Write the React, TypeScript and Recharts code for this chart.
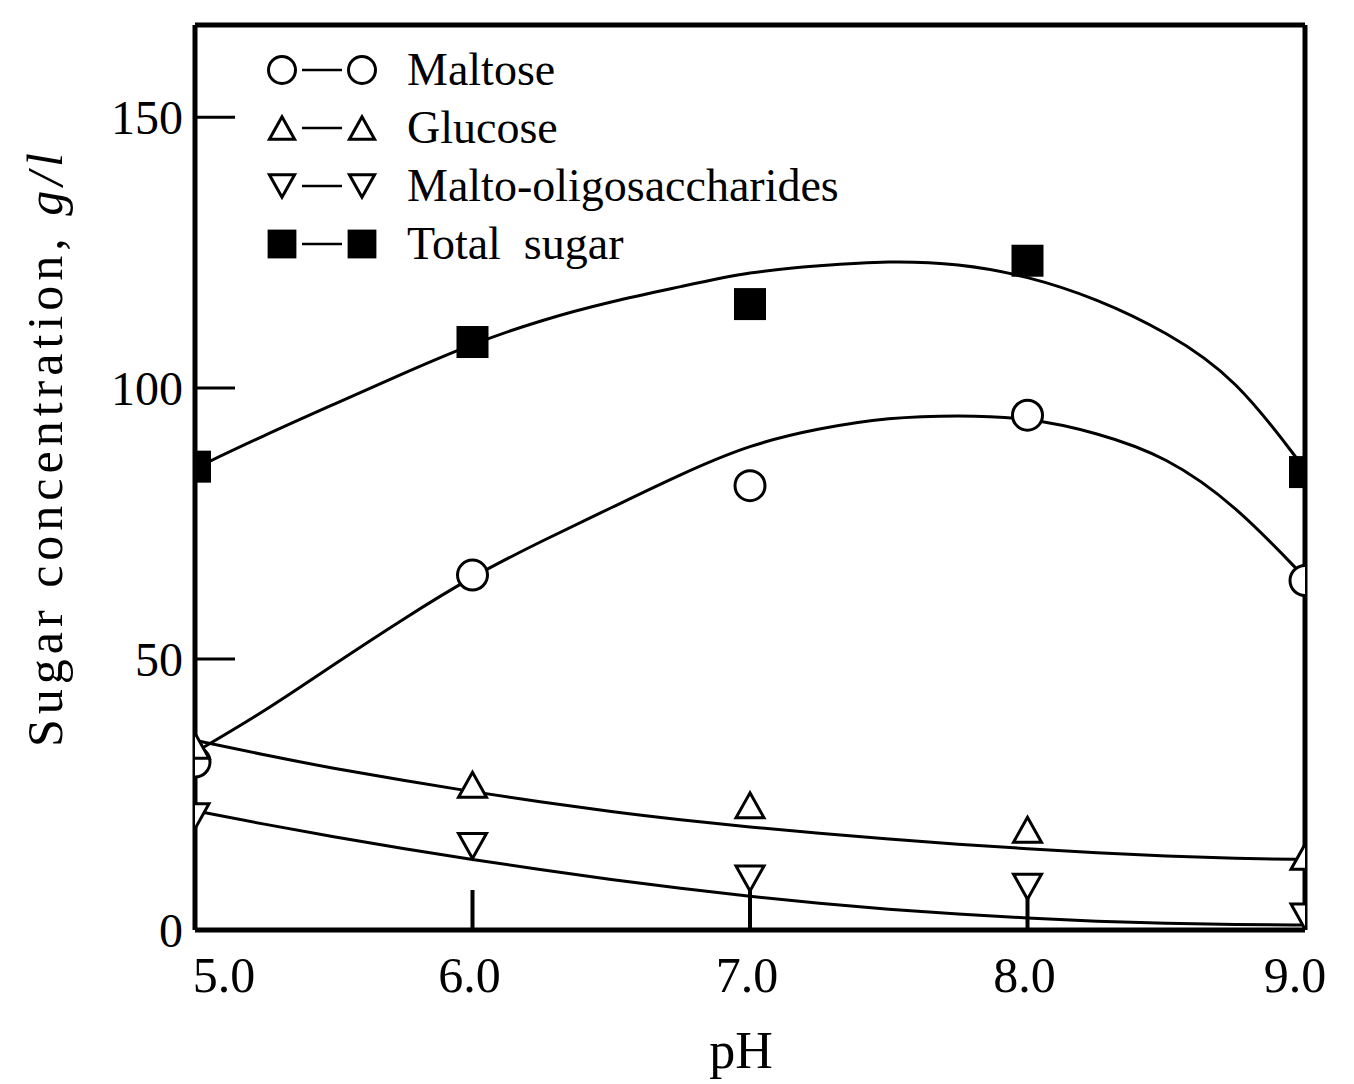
import React from 'react'
import { ComposedChart, Line, Scatter, XAxis, YAxis, ReferenceLine, Legend } from 'recharts'

// measured points (pH 5.0 – 9.0)
const measuredPh = [5.0, 6.0, 7.0, 8.0, 9.0]
const maltose = [31, 65.5, 82, 95, 64.5]
const glucose = [34, 26.8, 23, 18.5, 13.5]
const oligo = [21, 15.5, 9.5, 8, 2.5]
const totalSugar = [85.5, 108.5, 115.5, 123.5, 84.5]

// fitted curves, every 0.25 pH
const fitPh = [5.0, 5.25, 5.5, 5.75, 6.0, 6.25, 6.5, 6.75, 7.0, 7.25, 7.5, 7.75, 8.0, 8.25, 8.5, 8.75, 9.0]
const maltoseFit = [32.8, 40.3, 49, 57.4, 65.3, 71.8, 77.9, 84.1, 89.6, 92.6, 94.6, 95, 94.6, 91.8, 87.4, 78.4, 65]
const glucoseFit = [35, 32.3, 29.8, 27.6, 25.5, 23.6, 21.8, 20.3, 19, 17.8, 16.8, 15.8, 15, 14.2, 13.6, 13.2, 13]
const oligoFit = [22, 19.5, 17.2, 15, 13, 11.1, 9.3, 7.7, 6.2, 4.9, 3.8, 2.9, 2.2, 1.6, 1.2, 1.0, 0.9]
const totalFit = [85.2, 91.3, 97, 102.7, 108.2, 112.6, 116, 118.7, 121.5, 122.6, 123.5, 123, 120.7, 116.5, 110.4, 102, 85]

const phTicks = [5, 6, 7, 8, 9]
const yTicks = [0, 50, 100, 150]

const FONT = '"Liberation Serif", "DejaVu Serif", serif'

type Kind = 'circle' | 'up' | 'down' | 'square'

const series: { name: string; kind: Kind; values: number[]; fit: number[] }[] = [
  { name: 'Maltose', kind: 'circle', values: maltose, fit: maltoseFit },
  { name: 'Glucose', kind: 'up', values: glucose, fit: glucoseFit },
  { name: 'Malto-oligosaccharides', kind: 'down', values: oligo, fit: oligoFit },
  { name: 'Total  sugar', kind: 'square', values: totalSugar, fit: totalFit },
]

function Marker({ kind, cx, cy, s = 1 }: { kind: Kind; cx: number; cy: number; s?: number }) {
  if (kind === 'circle') {
    return <circle cx={cx} cy={cy} r={15 * s} fill="#fff" stroke="#000" strokeWidth={3} />
  }
  if (kind === 'square') {
    const h = 16 * s
    return <rect x={cx - h} y={cy - h} width={2 * h} height={2 * h} fill="#000" />
  }
  const w = 14 * s
  const h = 12.5 * s
  const pts =
    kind === 'up'
      ? `${cx},${cy - h} ${cx - w},${cy + h} ${cx + w},${cy + h}`
      : `${cx},${cy + h} ${cx - w},${cy - h} ${cx + w},${cy - h}`
  return <polygon points={pts} fill="#fff" stroke="#000" strokeWidth={3} strokeLinejoin="miter" />
}

function XTick(props: any) {
  const { x, y, payload } = props
  const v = payload.value
  const dx = v === 5 ? 29 : v === 9 ? -10 : -3
  return (
    <text x={x + dx} y={y} dy="0.71em" textAnchor="middle" fontSize={50} style={{ fontFamily: FONT }} fill="#000">
      {v.toFixed(1)}
    </text>
  )
}

function YTick(props: any) {
  const { x, y, payload } = props
  return (
    <text x={x} y={y} dy="0.35em" textAnchor="end" fontSize={48} style={{ fontFamily: FONT }} fill="#000">
      {payload.value}
    </text>
  )
}

function YTitle({ viewBox }: any) {
  const cx = viewBox.x - 50
  const cy = viewBox.y + viewBox.height / 2 - 30
  return (
    <text
      x={cx}
      y={cy}
      transform={`rotate(-90, ${cx}, ${cy})`}
      textAnchor="middle"
      dominantBaseline="central"
      fill="#000"
      style={{ fontFamily: FONT, fontSize: 50, letterSpacing: 5 }}
    >
      Sugar concentration, <tspan fontStyle="italic">g/l</tspan>
    </text>
  )
}

function LegendBox() {
  return (
    <div style={{ position: 'absolute', left: 257, top: 33, fontFamily: FONT, fontSize: 46 }}>
      {series.map((s) => (
        <div key={s.name} style={{ display: 'flex', alignItems: 'center', height: 58 }}>
          <svg width={142} height={40}>
            <Marker kind={s.kind} cx={17} cy={20} s={0.9} />
            <line x1={37} x2={77} y1={20} y2={20} stroke="#000" strokeWidth={2.5} />
            <Marker kind={s.kind} cx={97} cy={20} s={0.9} />
          </svg>
          <span style={{ whiteSpace: 'pre', lineHeight: 1 }}>{s.name}</span>
        </div>
      ))}
    </div>
  )
}

export default function App() {
  return (
    <div style={{ width: 1346, height: 1076, position: 'relative', background: '#fff' }}>
      <ComposedChart width={1346} height={1076} margin={{ top: 17, right: 49, left: 87, bottom: 0 }}>
        <XAxis
          type="number"
          dataKey="ph"
          domain={[5, 9]}
          ticks={phTicks}
          allowDataOverflow
          height={154}
          stroke="#000"
          axisLine={{ stroke: '#000', strokeWidth: 5 }}
          tickLine={{ stroke: '#000', strokeWidth: 4 }}
          tickSize={-40}
          tickMargin={66}
          tick={<XTick />}
          label={{ value: 'pH', position: 'insideBottom', offset: 16, dx: -9, fontSize: 52, fontFamily: FONT, fill: '#000' }}
        />
        <YAxis
          type="number"
          domain={[0, 167]}
          ticks={yTicks}
          allowDataOverflow
          width={100}
          axisLine={{ stroke: '#000', strokeWidth: 5 }}
          tickLine={{ stroke: '#000', strokeWidth: 3 }}
          tickSize={-40}
          tickMargin={52}
          tick={<YTick />}
          label={{ content: YTitle }}
        />
        <ReferenceLine x={9} stroke="#000" strokeWidth={5} />
        <ReferenceLine y={167} stroke="#000" strokeWidth={5} />
        {series.map((s) => (
          <Line
            key={s.name + '-fit'}
            data={fitPh.map((ph, i) => ({ ph, value: s.fit[i] }))}
            dataKey="value"
            type="basis"
            stroke="#000"
            strokeWidth={3}
            dot={false}
            activeDot={false}
            isAnimationActive={false}
            legendType="none"
          />
        ))}
        {series.map((s) => (
          <Scatter
            key={s.name + '-pts'}
            data={measuredPh.map((ph, i) => ({ ph, value: s.values[i] }))}
            dataKey="value"
            shape={(p: any) => <Marker kind={s.kind} cx={p.cx} cy={p.cy} />}
            isAnimationActive={false}
            legendType="none"
          />
        ))}
        <Legend content={() => null} />
      </ComposedChart>
      <LegendBox />
    </div>
  )
}
